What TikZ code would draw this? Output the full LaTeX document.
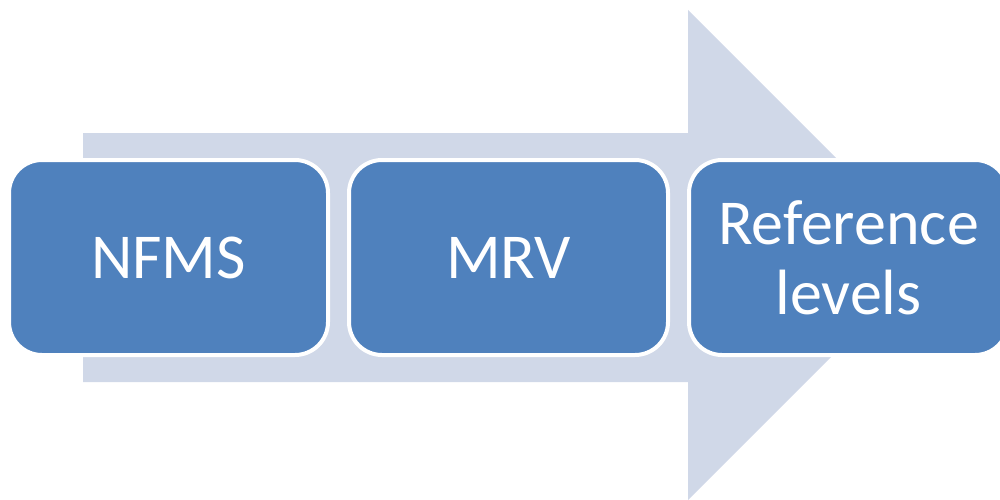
\documentclass[tikz,border=0pt]{standalone}
\usepackage{fontspec}
\setmainfont{Carlito}
\definecolor{boxblue}{HTML}{4F81BD}
\definecolor{arrowgray}{HTML}{D0D8E8}
\tikzset{
  stagebox/.style={draw=white, line width=4pt, fill=boxblue, rounded corners=33pt,
    minimum width=319pt, minimum height=195pt, inner sep=0pt, text=white,
    font=\fontsize{64}{70}\selectfont, align=center, outer sep=0pt},
  bigarrow/.style={fill=arrowgray, draw=none}
}
\begin{document}
\begin{tikzpicture}[x=1pt,y=-1pt]
\useasboundingbox (0,0) rectangle (1000,500);
\fill[bigarrow] (83,133) -- (688,133) -- (688,10) -- (933,255) -- (688,500) -- (688,382) -- (83,382) -- cycle;
\node[stagebox] (nfms) at (168.5,257.5) {NFMS};
\node[stagebox] (mrv) at (508.5,257.5) {MRV};
\node[stagebox] (ref) at (848.5,257.5) {Reference\\levels};
\end{tikzpicture}
\end{document}
